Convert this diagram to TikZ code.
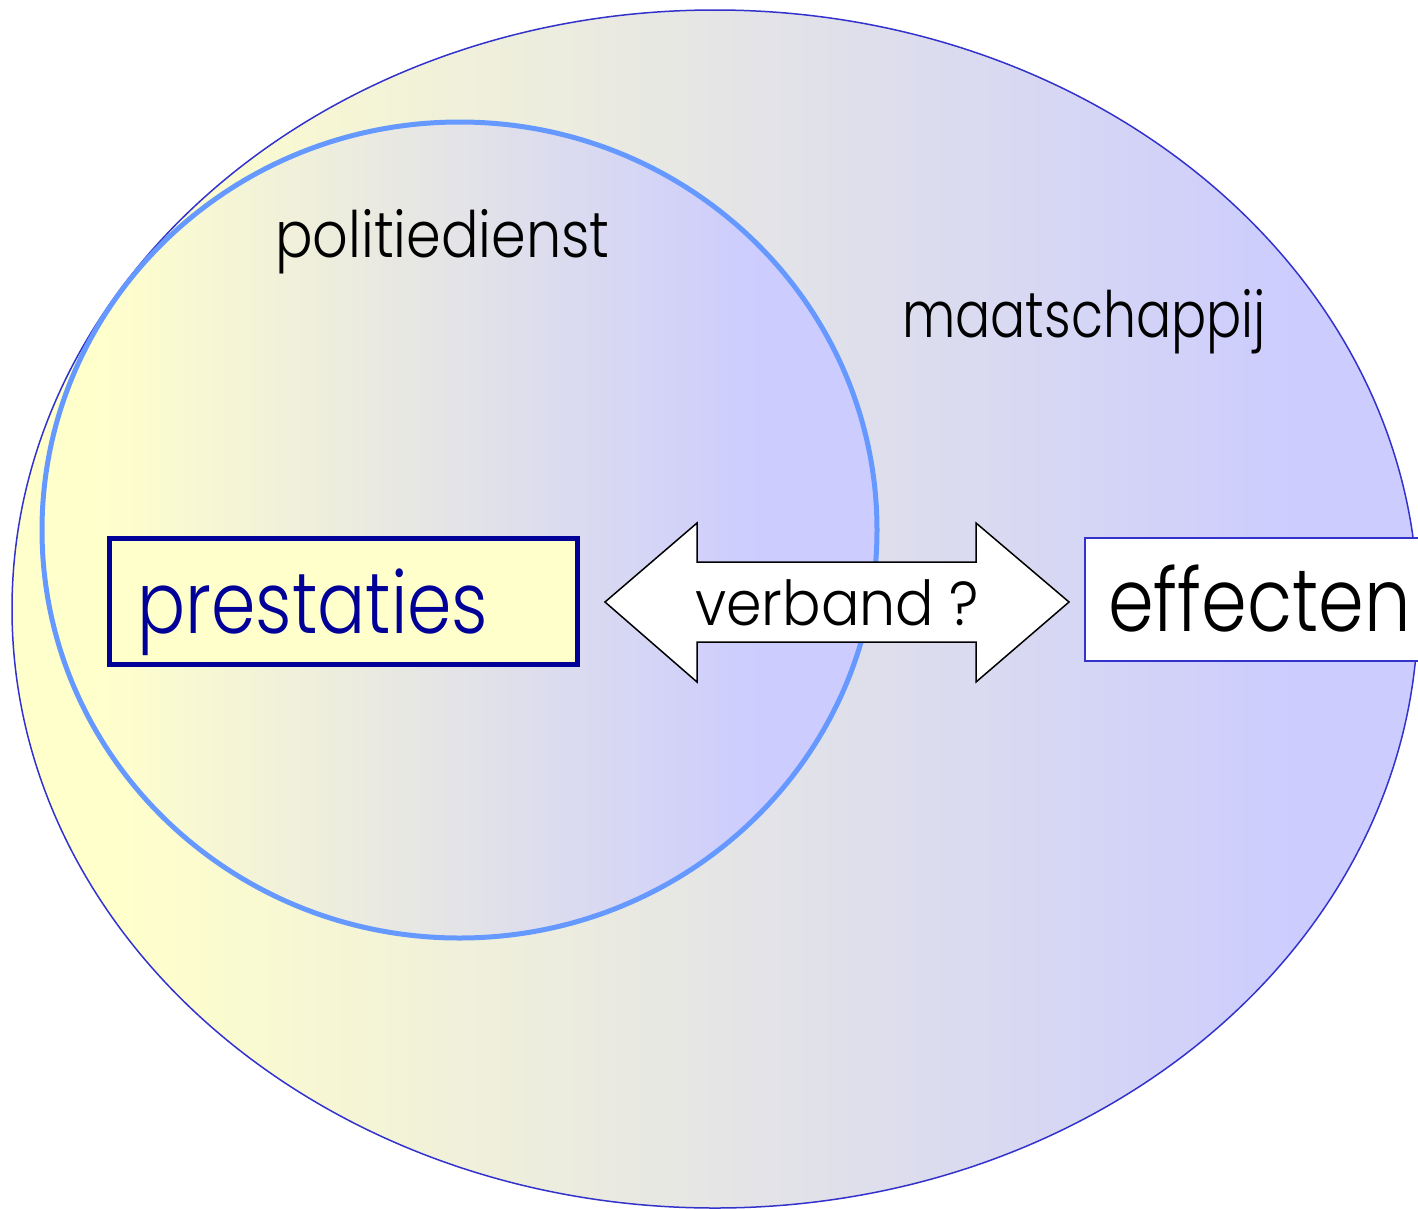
\documentclass[tikz,border=0pt]{standalone}
\usepackage{fontspec}
\setmainfont{Poppins Light}
\definecolor{yel}{HTML}{FFFFCC}
\definecolor{lav}{HTML}{CCCCFF}
\definecolor{outerline}{HTML}{3333CC}
\definecolor{innerline}{HTML}{6699FF}
\definecolor{navy}{HTML}{000099}
\pgfdeclarehorizontalshading{outershade}{100bp}{color(0bp)=(yel); color(28.8bp)=(yel); color(70.8bp)=(lav); color(100bp)=(lav)}
\pgfdeclarehorizontalshading{innershade}{100bp}{color(0bp)=(yel); color(28.5bp)=(yel); color(68bp)=(lav); color(100bp)=(lav)}
\tikzset{
  label/.style={inner sep=0pt, anchor=base west, text=black}
}
\begin{document}
\begin{tikzpicture}[x=1pt,y=-1pt]
\useasboundingbox (0,0) rectangle (1418,1208);
\clip (0,0) rectangle (1418,1208);
% outer ellipse (maatschappij)
\shade[shading=outershade] (715,609) ellipse [x radius=703, y radius=599];
\draw[outerline, line width=1.5pt] (715,609) ellipse [x radius=703, y radius=599];
% inner ellipse (politiedienst)
\shade[shading=innershade] (459.5,530) ellipse [x radius=417.5, y radius=408];
\draw[innerline, line width=5pt] (459.5,530) ellipse [x radius=417.5, y radius=408];
% labels
\node[label, font=\fontsize{64}{64}\selectfont] (politie) at (275,257) {\scalebox{0.87}[1]{politiedienst}};
\node[label, font=\fontsize{64}{64}\selectfont] (maat) at (902,337) {\scalebox{0.815}[1]{maatschappij}};
% prestaties box
\draw[navy, fill=yel, line width=5pt] (109.5,538) rectangle (577,664);
\node[label, text=navy, font=\fontsize{86}{86}\selectfont] (prest) at (137,633) {\scalebox{0.83}[1]{prestaties}};
% double arrow
\draw[black, fill=white, line width=1.5pt, line join=miter]
  (605,602) -- (697,523) -- (697,562) -- (976,562) -- (976,523) -- (1069,602)
  -- (976,682) -- (976,642) -- (697,642) -- (697,682) -- cycle;
\node[label, font=\fontsize{62}{62}\selectfont] (verband) at (695,625) {\scalebox{0.92}[1]{verband ?}};
% effecten box
\draw[outerline, fill=white, line width=1.5pt] (1085,538) rectangle (1440,661);
\node[label, font=\fontsize{88}{88}\selectfont] (eff) at (1108,631) {\scalebox{0.835}[1]{effecten}};
\end{tikzpicture}
\end{document}
